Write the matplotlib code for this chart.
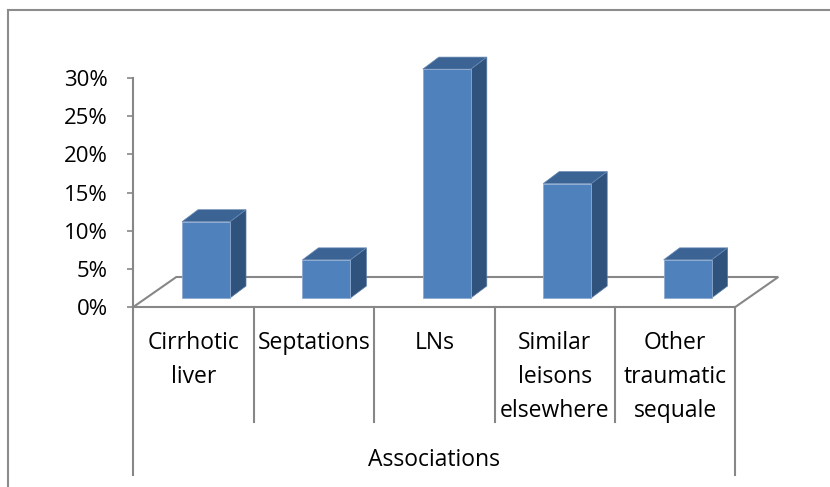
"""Associations - 3D style column chart (Excel look)."""

import matplotlib

matplotlib.use("Agg")
import matplotlib.pyplot as plt
from matplotlib.lines import Line2D
from matplotlib.patches import Polygon

plt.rcParams["font.family"] = ["Open Sans", "DejaVu Sans"]

categories = ["Cirrhotic\nliver", "Septations", "LNs", "Similar\nleisons\nelsewhere", "Other\ntraumatic\nsequale"]
values = [10, 5, 30, 15, 5]  # percent
yticks = [0, 5, 10, 15, 20, 25, 30]
axis_title = "Associations"

FRONT = "#4F81BD"
TOP = "#3B6494"
SIDE = "#30537D"
GRID = "#878787"

W, H = 830, 487
fig = plt.figure(figsize=(W / 100, H / 100), dpi=100)
ax = fig.add_axes([0, 0, 1, 1])

# pixel layout -> data units (1 category = 120.4 px, 1 % = 7.63 px)
px_x, px_y = 120.4, 7.63
x0_px, y0_px = 193.5, 307
ax.set_xlim(-x0_px / px_x, (W - x0_px) / px_x)
ax.set_ylim((y0_px - H) / px_y, y0_px / px_y)

n = len(categories)
# floor outline
fdx, fdy = 43 / px_x, 30 / px_y
floor = Polygon(
    [(-0.5, 0), (n - 0.5, 0), (n - 0.5 + fdx, fdy), (-0.5 + fdx, fdy)],
    closed=True, fill=False, edgecolor=GRID, lw=1.5, zorder=1,
)
ax.add_patch(floor)

# bars
off, bw = 12.5 / px_x, 48 / px_x
base = 9 / px_y
ddx, ddy = 16 / px_x, 12 / px_y
for i, v in enumerate(values):
    xl = i + off - bw / 2
    xr = xl + bw
    yb, yt = base, base + v
    side = [(xr, yb), (xr + ddx, yb + ddy), (xr + ddx, yt + ddy), (xr, yt)]
    top = [(xl, yt), (xr, yt), (xr + ddx, yt + ddy), (xl + ddx, yt + ddy)]
    front = [(xl, yb), (xr, yb), (xr, yt), (xl, yt)]
    ax.add_patch(Polygon(side, closed=True, facecolor=SIDE, edgecolor="#5A7BA6", lw=0.5, zorder=3))
    ax.add_patch(Polygon(top, closed=True, facecolor=TOP, edgecolor="#6A8BB5", lw=0.5, zorder=3))
    ax.add_patch(Polygon(front, closed=True, facecolor=FRONT, edgecolor="#8FAAD0", lw=0.6, zorder=4))

# category dividers below the floor
inner_bot = (y0_px - 422) / px_y
outer_bot = (y0_px - 475) / px_y
for k in range(n + 1):
    bot = outer_bot if k in (0, n) else inner_bot
    ax.plot([k - 0.5, k - 0.5], [0, bot], color=GRID, lw=1.5, zorder=1)

# category labels
lab_top = (y0_px - 331) / px_y
for i, c in enumerate(categories):
    ax.text(i, lab_top, c, ha="center", va="top", fontsize=16.5, linespacing=1.55)

ax.text((n - 1) / 2, (y0_px - 460) / px_y, axis_title, ha="center", va="center", fontsize=16.5)

# y axis
for s in ["top", "right", "bottom"]:
    ax.spines[s].set_visible(False)
ax.spines["left"].set_position(("data", -0.5))
ax.spines["left"].set_bounds(0, max(yticks))
ax.spines["left"].set_color(GRID)
ax.spines["left"].set_linewidth(1.5)
ax.set_yticks(yticks)
ax.set_yticklabels([f"{t}%" for t in yticks])
ax.tick_params(axis="y", length=4.5, width=1.2, color=GRID, pad=14, labelsize=16)
ax.set_xticks([])

# outer chart frame (cut off on the right and bottom)
fig.add_artist(Line2D([8 / W, 1], [1 - 10 / H, 1 - 10 / H], color="#8C8C8C", lw=1.5))
fig.add_artist(Line2D([8 / W, 8 / W], [0, 1 - 10 / H], color="#8C8C8C", lw=1.5))

fig.savefig("out.png", dpi=100)
